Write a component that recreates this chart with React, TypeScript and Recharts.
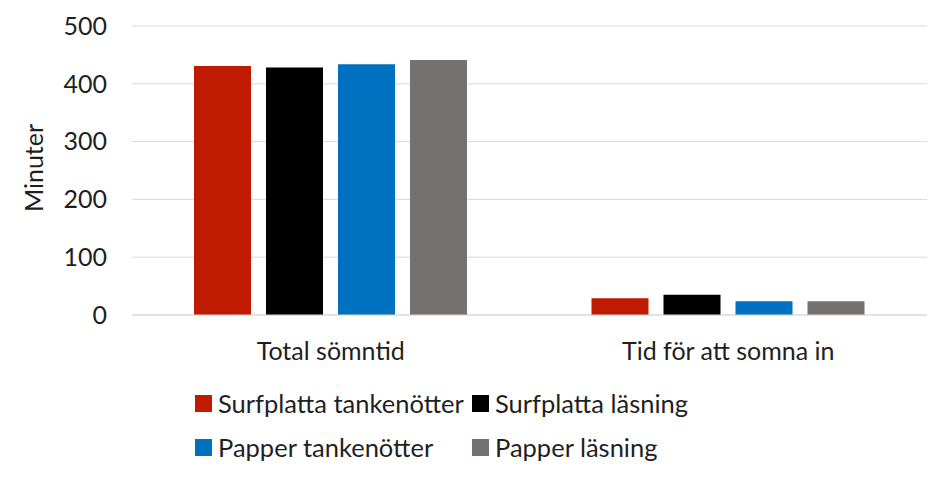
import React from 'react';
import { BarChart, Bar, XAxis, YAxis, CartesianGrid, Legend, Label } from 'recharts';

const categories = ['Total sömntid', 'Tid för att somna in'];
const surfplattaTankenotter = [431, 29];
const surfplattaLasning = [428, 35];
const papperTankenotter = [434, 24];
const papperLasning = [441, 24];
const yTicks = [0, 100, 200, 300, 400, 500];

const SERIES = [
  { key: 'st', name: 'Surfplatta tankenötter', color: '#c01a00', values: surfplattaTankenotter },
  { key: 'sl', name: 'Surfplatta läsning', color: '#000000', values: surfplattaLasning },
  { key: 'pt', name: 'Papper tankenötter', color: '#0070c0', values: papperTankenotter },
  { key: 'pl', name: 'Papper läsning', color: '#767171', values: papperLasning },
];

const data = categories.map((c, i) => {
  const row: Record<string, string | number> = { category: c };
  SERIES.forEach(s => { row[s.key] = s.values[i]; });
  return row;
});

const FONT = 'Lato, "Open Sans", sans-serif';
const TEXT = '#1f1f1f';

const LegendBox = () => (
  <div style={{
    height: 110, width: 945, fontFamily: FONT, fontSize: 25.5, color: TEXT,
    display: 'grid', gridTemplateColumns: '277px 300px', gridAutoRows: '30px',
    alignContent: 'start', paddingLeft: 195, boxSizing: 'border-box', paddingTop: 18, rowGap: 14,
  }}>
    {SERIES.map(s => (
      <div key={s.key} style={{ display: 'flex', alignItems: 'center', height: 30, whiteSpace: 'nowrap' }}>
        <span style={{ width: 17, height: 17, background: s.color, display: 'inline-block', marginRight: 6 }} />
        <span>{s.name}</span>
      </div>
    ))}
  </div>
);

const YLabel = () => (
  <text x={33} y={168} transform="rotate(-90 33 168)" textAnchor="middle" dominantBaseline="central"
    fill={TEXT} fontFamily={FONT} fontSize={25}>Minuter</text>
);

export default function App() {
  return (
    <div style={{ position: 'absolute', left: 0, top: 0, width: 945, height: 480, background: '#fff' }}>
      <BarChart width={945} height={480} data={data} barSize={57} barGap={15}
        margin={{ top: 26, right: 18, left: 0, bottom: 0 }}>
        <CartesianGrid vertical={false} stroke="#d9d9d9" />
        <XAxis dataKey="category" height={55} axisLine={{ stroke: '#d9d9d9' }} tickLine={false}
          tickMargin={21} tick={{ fill: TEXT, fontSize: 25, fontFamily: FONT }} />
        <YAxis width={132} domain={[0, 500]} ticks={yTicks} axisLine={false} tickLine={false}
          tickMargin={19} tick={{ fill: TEXT, fontSize: 25, fontFamily: FONT }}>
          <Label content={<YLabel />} />
        </YAxis>
        <Legend verticalAlign="bottom" align="left" content={<LegendBox />} />
        {SERIES.map(s => (
          <Bar key={s.key} dataKey={s.key} name={s.name} fill={s.color} isAnimationActive={false} />
        ))}
      </BarChart>
    </div>
  );
}
